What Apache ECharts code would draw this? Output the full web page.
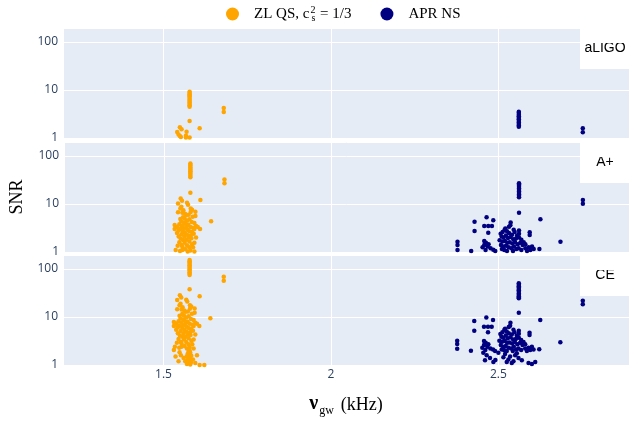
<!DOCTYPE html>
<html>
<head>
<meta charset="utf-8">
<script src="https://cdn.jsdelivr.net/npm/echarts@6/dist/echarts.min.js"></script>
<style>
html,body{margin:0;padding:0;background:#fff}
#main{width:629px;height:424px}
</style>
</head>
<body>
<div id="main"></div>
<script>
// detector panels, top to bottom
var detectors = ['aLIGO', 'A+', 'CE'];

// ZL QS (cs^2 = 1/3) : [nu_gw kHz, SNR]
var zlAligo = [
  [1.578,9.2],[1.578,8.7],[1.578,8.2],[1.578,7.7],[1.578,7.2],[1.578,6.8],[1.578,6.3],[1.578,5.9],
  [1.578,5.5],[1.578,5.1],[1.578,4.8],[1.578,4.5],
  [1.578,2.26],[1.608,1.59],[1.68,4.2],[1.68,3.5],
  [1.541,1.33],[1.549,1.67],[1.554,1.52],[1.549,1.1],[1.552,1.05],[1.569,1.35],[1.567,1.12],
  [1.567,1.02],[1.578,1.03],[1.545,1.18]
];
var zlAplus = [
  [1.578,70],[1.578,66],[1.578,62],[1.578,58],[1.578,54.5],[1.578,51],[1.578,48],[1.578,45],
  [1.578,42],[1.578,39],[1.578,36],
  [1.578,17.2],[1.608,12.1],[1.68,32.6],[1.68,27],[1.64,4.36],
  [1.549,13.1],[1.553,11.7],[1.541,10.3],[1.568,10.6],[1.571,9.6],[1.551,8.8],[1.548,8.1],[1.579,8.1],
  [1.583,7.6],[1.557,7.4],[1.541,6.7],[1.554,6.6],[1.579,6.8],[1.593,6.9],[1.562,6.3],[1.573,6.0],
  [1.566,5.9],[1.593,5.6],[1.585,5.4],[1.561,5.0],[1.556,5.3],[1.548,4.9],[1.575,4.8],[1.568,4.5],
  [1.551,4.3],[1.559,4.1],[1.582,4.2],[1.590,4.0],[1.562,3.9],[1.545,3.8],[1.531,3.65],[1.572,3.7],
  [1.539,3.3],[1.553,3.5],[1.566,3.4],[1.578,3.3],[1.595,3.5],[1.600,3.3],[1.586,3.2],[1.531,3.0],
  [1.547,3.0],[1.559,3.1],[1.569,2.9],[1.590,3.0],[1.607,3.0],[1.543,2.8],[1.556,2.7],[1.575,2.7],
  [1.583,2.6],[1.538,2.5],[1.562,2.5],[1.551,2.35],[1.568,2.3],[1.588,2.4],[1.579,2.2],[1.543,2.1],
  [1.560,2.1],[1.595,2.0],[1.573,2.0],[1.581,1.93],[1.556,1.78],[1.549,1.9],[1.566,1.8],[1.590,1.56],
  [1.575,1.65],[1.561,1.55],[1.545,1.6],[1.583,1.45],[1.552,1.4],[1.568,1.38],[1.540,1.35],[1.554,1.29],
  [1.586,1.25],[1.575,1.25],[1.534,1.1],[1.554,1.1],[1.563,1.15],[1.578,1.08],[1.547,1.05],[1.590,1.03],
  [1.570,1.02]
];
var zlCE = [
  [1.578,154],[1.578,145],[1.578,136],[1.578,128],[1.578,120],[1.578,112],[1.578,105],[1.578,98],
  [1.578,92],[1.578,86],[1.578,80],[1.578,75],
  [1.578,37.8],[1.608,27],[1.68,69],[1.68,57],[1.64,9.4],
  [1.549,28.5],[1.553,25.5],[1.541,22.5],[1.568,23],[1.571,21],[1.551,19],[1.548,17.5],[1.579,17.5],
  [1.583,16.5],[1.557,16],[1.541,14.5],[1.554,14.3],[1.579,14.8],[1.593,15],[1.562,13.6],[1.573,13],
  [1.566,12.8],[1.593,12.2],[1.585,11.7],[1.561,10.8],[1.556,11.5],[1.548,10.6],[1.575,10.4],[1.568,9.8],
  [1.551,9.3],[1.559,8.9],[1.582,9.1],[1.590,8.7],[1.562,8.5],[1.545,8.2],[1.531,7.9],[1.572,8.0],
  [1.539,7.2],[1.553,7.6],[1.566,7.4],[1.578,7.2],[1.595,7.6],[1.600,7.2],[1.586,6.9],[1.531,6.5],
  [1.547,6.5],[1.559,6.7],[1.569,6.3],[1.590,6.5],[1.607,6.5],[1.543,6.1],[1.556,5.9],[1.575,5.9],
  [1.583,5.6],[1.538,5.4],[1.562,5.4],[1.551,5.1],[1.568,5.0],[1.588,5.2],[1.579,4.8],[1.543,4.6],
  [1.560,4.6],[1.595,4.3],[1.573,4.3],[1.581,4.2],[1.556,3.9],[1.549,4.1],[1.566,3.9],[1.590,3.4],
  [1.575,3.6],[1.561,3.4],[1.545,3.5],[1.583,3.2],[1.552,3.0],[1.568,3.0],[1.540,2.9],[1.554,2.8],
  [1.586,2.7],[1.575,2.7],[1.534,2.4],[1.554,2.4],[1.563,2.5],[1.578,2.35],[1.547,2.3],[1.590,2.2],
  [1.570,2.2],[1.531,2.05],
  [1.578,2.0],[1.575,1.9],[1.580,1.8],[1.572,1.7],[1.578,1.6],[1.583,1.55],[1.569,1.5],[1.576,1.45],
  [1.580,1.35],[1.573,1.3],[1.578,1.25],[1.565,1.2],[1.583,1.15],[1.575,1.1],[1.570,1.05],[1.580,1.02],
  [1.560,1.4],[1.552,1.6],[1.545,1.2],[1.536,1.5],[1.588,1.3],[1.595,1.1],[1.600,1.6],[1.548,1.85],
  [1.608,1.0],[1.622,1.0]
];

// APR NS : [nu_gw kHz, SNR]
var aprAligo = [
  [2.561,3.53],[2.561,3.3],[2.561,3.05],[2.561,2.85],[2.561,2.65],[2.561,2.45],[2.561,2.25],
  [2.561,2.1],[2.561,1.95],[2.561,1.82],[2.561,1.72],
  [2.752,1.59],[2.752,1.31]
];
var aprAplus = [
  [2.561,27],[2.561,25.5],[2.561,24],[2.561,22.5],[2.561,21],[2.561,19.5],[2.561,18.2],[2.561,17],
  [2.561,15.8],[2.561,14.8],[2.561,13.8],
  [2.752,12.1],[2.752,10.1],[2.561,6.6],[2.428,4.27],[2.428,2.74],[2.464,5.3],[2.457,3.48],[2.469,3.48],
  [2.480,3.48],[2.469,2.53],[2.484,4.6],[2.377,1.64],[2.377,1.4],[2.377,1.1],[2.418,1.05],[2.536,4.1],
  [2.531,3.37],[2.625,4.8],[2.685,1.64],[2.593,2.57],[2.593,2.26],[2.622,1.15],[2.561,2.8],[2.561,2.4],
  [2.457,1.7],[2.462,1.55],[2.457,1.4],[2.467,1.3],[2.476,1.2],[2.461,1.1],[2.484,1.12],[2.490,1.05],
  [2.470,1.45],[2.452,1.25],
  [2.506,2.4],[2.512,2.6],[2.518,2.9],[2.525,2.7],[2.531,2.5],[2.540,2.3],[2.548,2.6],[2.555,2.2],
  [2.509,2.1],[2.515,2.0],[2.522,2.2],[2.528,1.95],[2.536,2.05],[2.544,1.85],[2.552,1.9],[2.561,2.0],
  [2.568,1.8],[2.503,1.75],[2.511,1.65],[2.519,1.7],[2.526,1.55],[2.533,1.6],[2.541,1.5],[2.549,1.62],
  [2.557,1.45],[2.565,1.55],[2.572,1.4],[2.507,1.4],[2.514,1.3],[2.522,1.35],[2.530,1.25],[2.538,1.2],
  [2.546,1.3],[2.553,1.15],[2.560,1.2],[2.568,1.1],[2.517,1.1],[2.525,1.05],[2.543,1.05],[2.510,1.15],
  [2.580,1.2],[2.590,1.25],[2.595,1.1],[2.605,1.15],[2.600,1.3],[2.585,1.05],[2.575,1.6],[2.580,1.45],
  [2.520,3.1],[2.535,3.6],[2.545,2.9]
];
var aprCE = [
  [2.561,50.4],[2.561,47],[2.561,44],[2.561,41],[2.561,38.5],[2.561,36],[2.561,33.5],[2.561,31],
  [2.561,29],[2.561,27],[2.561,25.5],[2.561,24.5],
  [2.752,21.8],[2.752,18.4],[2.561,12.3],[2.428,8.25],[2.428,5.2],[2.464,9.8],[2.457,6.27],[2.469,6.27],
  [2.480,6.27],[2.469,4.8],[2.484,8.66],[2.377,3.2],[2.377,2.74],[2.377,2.18],[2.418,1.98],[2.536,7.6],
  [2.531,6.2],[2.625,8.66],[2.685,2.97],[2.593,4.7],[2.593,4.2],[2.622,2.12],[2.561,5.2],[2.561,4.5],
  [2.457,3.15],[2.462,2.9],[2.457,2.6],[2.467,2.4],[2.476,2.2],[2.461,2.05],[2.484,2.1],[2.490,1.95],
  [2.470,2.7],[2.452,2.3],[2.465,1.6],[2.475,1.4],[2.460,1.25],[2.485,1.15],[2.455,1.8],
  [2.506,4.4],[2.512,4.8],[2.518,5.4],[2.525,5.0],[2.531,4.6],[2.540,4.3],[2.548,4.8],[2.555,4.1],
  [2.509,3.9],[2.515,3.7],[2.522,4.1],[2.528,3.6],[2.536,3.8],[2.544,3.4],[2.552,3.5],[2.561,3.7],
  [2.568,3.3],[2.503,3.2],[2.511,3.05],[2.519,3.15],[2.526,2.9],[2.533,2.95],[2.541,2.8],[2.549,3.0],
  [2.557,2.7],[2.565,2.9],[2.572,2.6],[2.507,2.6],[2.514,2.4],[2.522,2.5],[2.530,2.3],[2.538,2.2],
  [2.546,2.4],[2.553,2.1],[2.560,2.2],[2.568,2.05],[2.517,2.05],[2.525,1.95],[2.543,1.95],[2.510,2.1],
  [2.580,2.2],[2.590,2.3],[2.595,2.05],[2.605,2.1],[2.600,2.4],[2.585,1.95],[2.575,3.0],[2.580,2.7],
  [2.520,5.7],[2.535,6.6],[2.545,5.4],
  [2.520,1.7],[2.535,1.5],[2.550,1.6],[2.530,1.3],[2.545,1.2],[2.560,1.4],[2.515,1.45],[2.570,1.25],
  [2.540,1.1],[2.525,1.15],[2.590,1.1],[2.610,1.15],[2.600,1.05],[2.555,1.75],[2.500,1.8],[2.491,1.27]
];

var xMin = 1.2, xMax = 2.89;
var yMin = 1, yMax = 196;

var zlData = [zlAligo, zlAplus, zlCE];
var aprData = [aprAligo, aprAplus, aprCE];

var myChart = echarts.init(document.getElementById('main'));

var gridTops = [28, 142, 255];
var grids = [], xAxes = [], yAxes = [], series = [], graphics = [];

var labelFont = {fontFamily: 'Open Sans', fontSize: 12, color: '#2a3f5f'};

for (var i = 0; i < 3; i++) {
  grids.push({left: 63, right: 0, top: gridTops[i], height: 110,
    show: true, backgroundColor: '#E5ECF6', borderWidth: 0});
  xAxes.push({
    type: 'value', gridIndex: i, min: xMin, max: xMax, splitNumber: 3,
    axisLine: {show: false}, axisTick: {show: false},
    splitLine: {show: true, lineStyle: {color: '#fff', width: 1}},
    axisLabel: Object.assign({show: i === 2, margin: 4, showMinLabel: false, showMaxLabel: false}, labelFont),
    name: i === 2 ? '{nu|\u03bd}{sub|gw}{t|(kHz)}' : '',
    nameLocation: 'middle', nameGap: 29,
    nameTextStyle: {
      rich: {
        nu: {fontFamily: 'Liberation Serif', fontWeight: 'bold', fontSize: 20, color: '#000', verticalAlign: 'bottom', lineHeight: 20},
        sub: {fontFamily: 'Liberation Serif', fontSize: 12, color: '#000', verticalAlign: 'bottom', lineHeight: 16, padding: [0, 0, -3, 1]},
        t: {fontFamily: 'Liberation Serif', fontSize: 18, color: '#000', verticalAlign: 'bottom', lineHeight: 20, padding: [0, 0, 0, 7]}
      }
    }
  });
  yAxes.push({
    type: 'log', logBase: 10, gridIndex: i, min: yMin, max: yMax,
    axisLine: {show: false}, axisTick: {show: false},
    splitLine: {show: true, lineStyle: {color: '#fff', width: 1}},
    axisLabel: Object.assign({margin: 5, showMaxLabel: false}, labelFont),
    name: i === 1 ? 'SNR' : '',
    nameLocation: 'middle', nameGap: 38,
    nameTextStyle: {fontFamily: 'Liberation Serif', fontSize: 18, color: '#000'}
  });
  series.push({
    name: 'ZL', type: 'scatter', xAxisIndex: i, yAxisIndex: i,
    data: zlData[i], symbolSize: 4.5, itemStyle: {color: '#FFA500', opacity: 1}
  });
  series.push({
    name: 'APR', type: 'scatter', xAxisIndex: i, yAxisIndex: i,
    data: aprData[i], symbolSize: 4.5, itemStyle: {color: '#000080', opacity: 1}
  });
  // detector label box in the top right corner of each panel
  graphics.push({
    type: 'group', left: 580, top: gridTops[i], z: 100,
    children: [
      {type: 'rect', shape: {x: 0, y: 0, width: 49, height: 41}, style: {fill: '#fff'}},
      {type: 'text', x: 25, y: 20, style: {text: detectors[i], font: '14px "Liberation Sans", Arial, sans-serif',
        fill: '#000', align: 'center', verticalAlign: 'middle'}}
    ]
  });
}

var option = {
  animation: false,
  backgroundColor: '#fff',
  legend: {
    data: ['ZL', 'APR'],
    left: 221, top: 0,
    icon: 'circle', itemWidth: 33, itemHeight: 13, itemGap: 29,
    formatter: function (name) {
      if (name === 'ZL') return '{t|ZL QS, c}{sup|2}{sub|s}{t| = 1/3}';
      return '{t|APR NS}';
    },
    textStyle: {
      rich: {
        t: {fontFamily: 'Liberation Serif', fontSize: 15, color: '#000', lineHeight: 18},
        sup: {fontFamily: 'Liberation Serif', fontSize: 10, color: '#000', verticalAlign: 'top', lineHeight: 18, width: 0, padding: [0, 0, 0, 1]},
        sub: {fontFamily: 'Liberation Serif', fontSize: 10, color: '#000', verticalAlign: 'bottom', lineHeight: 18, padding: [0, 1, 0, 1]}
      }
    }
  },
  grid: grids,
  xAxis: xAxes,
  yAxis: yAxes,
  series: series,
  graphic: graphics
};

myChart.setOption(option);
</script>
</body>
</html>
